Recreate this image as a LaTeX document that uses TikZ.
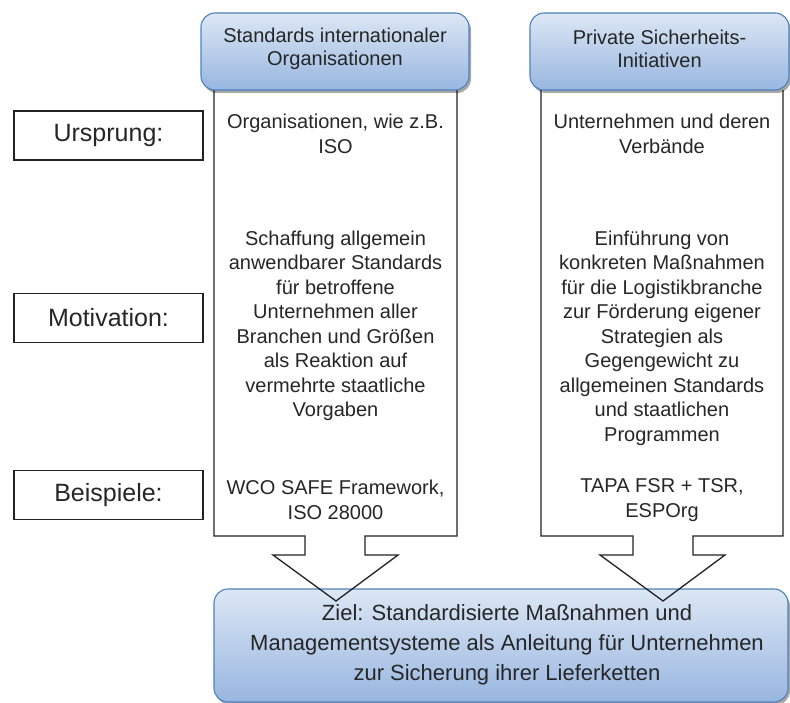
\documentclass[tikz,border=0pt]{standalone}
\usepackage{fontspec}
\setmainfont{Liberation Sans}
\usetikzlibrary{shadows}
\definecolor{txt}{HTML}{262626}
\definecolor{boxtop}{HTML}{DCE7F5}
\definecolor{boxbot}{HTML}{98B6E0}
\definecolor{boxline}{HTML}{4F81BD}
\definecolor{arrline}{HTML}{222222}
\tikzset{
  bluebox/.style={rectangle, rounded corners=14pt, draw=boxline, line width=1.1pt,
    top color=boxtop, bottom color=boxbot, text=txt, align=center, inner sep=0pt,
    drop shadow={shadow xshift=2pt, shadow yshift=-3pt, opacity=0.35, fill=black}},
  labelbox/.style={rectangle, draw=arrline, line width=1.2pt, fill=white, text=txt,
    minimum width=189pt, minimum height=49pt, inner sep=0pt,
    font=\fontsize{25}{28}\selectfont},
  coltext/.style={text=txt, align=center, inner sep=0pt,
    font=\fontsize{20}{24.5}\selectfont},
  bigarrow/.style={draw=arrline, line width=1.3pt, line join=miter}
}
\begin{document}
\begin{tikzpicture}[x=1pt,y=-1pt]
\useasboundingbox (0,0) rectangle (790,703);
% bottom goal box
\node[bluebox, minimum width=574pt, minimum height=113pt] (goal) at (501,645.5) {};
\node[coltext, font=\fontsize{22}{30}\selectfont] (goaltext) at (507,645)
  {Ziel: Standardisierte Maßnahmen und\\Managementsysteme als Anleitung für Unternehmen\\zur Sicherung ihrer Lieferketten};
% arrows
\coordinate (la) at (214,90);
\coordinate (lb) at (457,90);
\coordinate (ra) at (541,90);
\coordinate (rb) at (783,90);
\draw[bigarrow] (la) -- (214,536) -- (305,536) -- (305,555) -- (273,555) -- (336,601)
  -- (398,555) -- (365,555) -- (365,536) -- (457,536) -- (lb);
\draw[bigarrow] (ra) -- (541,536) -- (633,536) -- (633,555) -- (600,555) -- (663,601)
  -- (725,555) -- (693,555) -- (693,536) -- (783,536) -- (rb);
% top boxes
\node[bluebox, minimum width=268pt, minimum height=77pt] (topl) at (335,51.5) {};
\node[coltext, font=\fontsize{20}{23}\selectfont] (topltext) at (335,49)
  {Standards internationaler\\Organisationen};
\node[bluebox, minimum width=259pt, minimum height=77pt] (topr) at (659.5,51.5) {};
\node[coltext, font=\fontsize{20}{23}\selectfont] (toprtext) at (659.5,49)
  {Private Sicherheits-\\Initiativen};
% labels
\node[labelbox] (ursprung) at (108.5,135.5) {Ursprung:};
\node[labelbox] (motivation) at (108.5,318) {Motivation:};
\node[labelbox] (beispiele) at (108.5,495) {Beispiele:};
% left column
\node[coltext] (l1) at (335.5,134) {Organisationen, wie z.B.\\ISO};
\node[coltext] (l2) at (335.5,326) {Schaffung allgemein\\anwendbarer Standards\\für betroffene\\Unternehmen aller\\Branchen und Größen\\als Reaktion auf\\vermehrte staatliche\\Vorgaben};
\node[coltext] (l3) at (335.5,500) {WCO SAFE Framework,\\ISO 28000};
% right column
\node[coltext] (r1) at (662,134) {Unternehmen und deren\\Verbände};
\node[coltext] (r2) at (662,338) {Einführung von\\konkreten Maßnahmen\\für die Logistikbranche\\zur Förderung eigener\\Strategien als\\Gegengewicht zu\\allgemeinen Standards\\und staatlichen\\Programmen};
\node[coltext] (r3) at (662,500) {TAPA FSR + TSR,\\ESPOrg};
\end{tikzpicture}
\end{document}
